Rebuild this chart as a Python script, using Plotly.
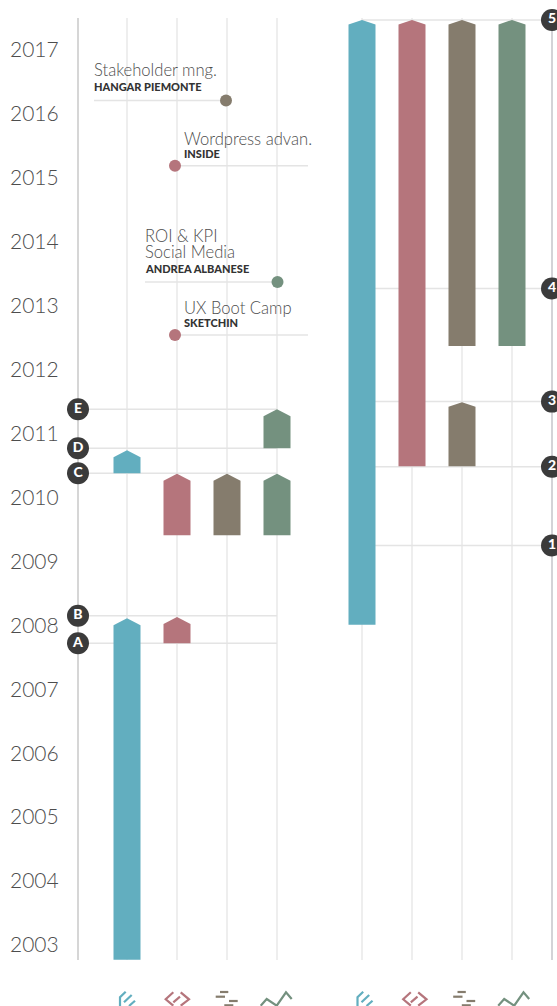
import plotly.graph_objects as go

# ---- data -------------------------------------------------------------
years = list(range(2003, 2018))
colors = {"design": "#62aebf", "code": "#b5757c", "plan": "#857c6d", "data": "#74917f"}
left_cols = {"design": 127, "code": 177, "plan": 227, "data": 277}
right_cols = {"design": 362, "code": 412, "plan": 462, "data": 512}

left_series = [
    ("design", 2002.77, 2008.11), ("code", 2007.72, 2008.13),
    ("design", 2010.38, 2010.74), ("code", 2009.41, 2010.37),
    ("plan", 2009.41, 2010.37), ("data", 2009.41, 2010.37),
    ("data", 2010.77, 2011.38),
]
right_series = [
    ("design", 2008.01, 2017.47), ("code", 2010.49, 2017.47),
    ("plan", 2012.37, 2017.47), ("data", 2012.37, 2017.47),
    ("plan", 2010.49, 2011.49),
]
left_marks = [("A", 2007.72), ("B", 2008.15), ("C", 2010.38), ("D", 2010.77), ("E", 2011.38)]
right_marks = [("1", 2009.25, 375), ("2", 2010.48, 375), ("3", 2011.50, 375),
               ("4", 2013.27, 375), ("5", 2017.47, 362)]
courses = [
    (["Stakeholder mng."], "HANGAR PIEMONTE", 2016.21, "plan", 94, 226, 94, 226, 14, 30),
    (["Wordpress advan."], "INSIDE", 2015.19, "code", 184, 175, 175, 308, 12.5, 27),
    (["ROI & KPI", "Social Media"], "ANDREA ALBANESE", 2013.37, "data", 145, 277.5, 145, 277, 14, 30),
    (["UX Boot Camp"], "SKETCHIN", 2012.54, "code", 184, 175, 175, 308, 13, 27),
]

# ---- scale ------------------------------------------------------------
W, H = 557, 1006
PX = 63.93
Y0 = 945
def yr(p): return 2003 + (Y0 - p) / PX
GRID = "#e8e8e8"
FONT = "Lato"
fig = go.Figure()

def line(xs, ys, color, width):
    fig.add_trace(go.Scatter(x=xs, y=ys, mode="lines", line=dict(color=color, width=width),
                             hoverinfo="skip", showlegend=False))

# grid
for x in list(left_cols.values()) + list(right_cols.values()):
    line([x, x], [yr(960), yr(18)], GRID, 1.5)
line([78, 78], [yr(960), yr(18)], "#c8c8c8", 1.5)
line([552, 552], [yr(960), yr(18)], "#c4c4ca", 1.5)

# reference lines
for _, y in left_marks:
    line([78, 277], [y, y], "#e4e4e4", 1.5)
for _, y, x0 in right_marks:
    line([x0, 552], [y, y], "#e4e4e4", 1.5)
for c in courses:
    line([c[6], c[7]], [c[2], c[2]], "#e4e4e4", 1.5)

# pentagon bars
def bars(series, cols, head):
    for key, lo, hi in series:
        c = cols[key]
        hw = 13.5
        xs = [c - hw, c - hw, c, c + hw, c + hw, c - hw]
        shoulder = hi - head / PX
        ys = [lo, shoulder, hi, shoulder, lo, lo]
        fig.add_trace(go.Scatter(x=xs, y=ys, mode="lines", fill="toself", fillcolor=colors[key],
                                 line=dict(width=0), hoverinfo="skip", showlegend=False))
bars(left_series, left_cols, 7)
bars(right_series, right_cols, 4.5)

# course dots + labels
for title_lines, sub, y, key, tx, dx, _, _, sub_gap, title_gap in courses:
    fig.add_trace(go.Scatter(x=[dx], y=[y], mode="markers",
                             marker=dict(size=12, color=colors[key]),
                             hoverinfo="skip", showlegend=False))
    fig.add_annotation(x=tx, y=y, xref="x", yref="y", text=sub, showarrow=False,
                       xanchor="left", yanchor="middle", yshift=sub_gap, xshift=-2, align="left",
                       font=dict(family=FONT, size=11, color="#333333", weight=900))
    for i, t in enumerate(reversed(title_lines)):
        fig.add_annotation(x=tx, y=y, xref="x", yref="y", text=t, showarrow=False,
                           xanchor="left", yanchor="middle", yshift=title_gap + 16 * i, xshift=-2,
                           align="left",
                           font=dict(family=FONT, size=16.6, color="#4d4d4d", weight=300))

# badges
bx = [78] * len(left_marks) + [552] * len(right_marks)
by = [m[1] for m in left_marks] + [m[1] for m in right_marks]
bt = [m[0] for m in left_marks] + [m[0] for m in right_marks]
fig.add_trace(go.Scatter(x=bx, y=by, mode="markers+text", text=bt, textposition="middle center",
                         marker=dict(size=22, color="#3b3b3b"),
                         textfont=dict(family=FONT, size=14, color="#ffffff", weight=900),
                         hoverinfo="skip", showlegend=False))

# icons (pixel coordinates of the page)
icons = {
    "design": [[(125.7, 991.7), (120, 997.3), (120, 1006)],
               [(135, 1000.7), (129, 1006)],
               [(131.7, 995), (124, 1002.3)]],
    "code": [[(173.3, 992.3), (165.7, 999.3), (173.3, 1005.7)],
             [(180.7, 992.3), (189, 999.3), (180.7, 1005.7)],
             [(173.3, 1002.3), (180, 996.7)]],
    "plan": [[(220, 992), (228.3, 992)], [(215.7, 996.7), (225, 996.7)],
             [(229, 1001), (237.7, 1001)], [(224.3, 1005.3), (233.3, 1005.3)]],
    "data": [[(260.7, 1005.7), (266.7, 999), (276.7, 1005.7), (286, 992.3), (291.7, 999)]],
}
for key, parts in icons.items():
    for offset in (0, 237.5):
        for part in parts:
            line([p[0] + offset for p in part], [yr(p[1]) for p in part], colors[key], 2.2)

fig.update_layout(
    width=W, height=H, margin=dict(l=0, r=0, t=0, b=0),
    paper_bgcolor="white", plot_bgcolor="white", showlegend=False,
    xaxis=dict(range=[0, W], visible=False, fixedrange=True),
    yaxis=dict(range=[yr(H), yr(0)], tickmode="array", tickvals=years, ticktext=[str(v) for v in years],
               ticklabelposition="inside", ticks="", showgrid=False, zeroline=False, showline=False,
               ticklabelstandoff=7, tickfont=dict(family=FONT, size=21, color="#4d4d4d", weight=300),
               fixedrange=True),
)
fig.write_html("out.html", config={"displayModeBar": False},
               post_script="document.body.style.margin='0';document.documentElement.style.overflow='hidden';")
